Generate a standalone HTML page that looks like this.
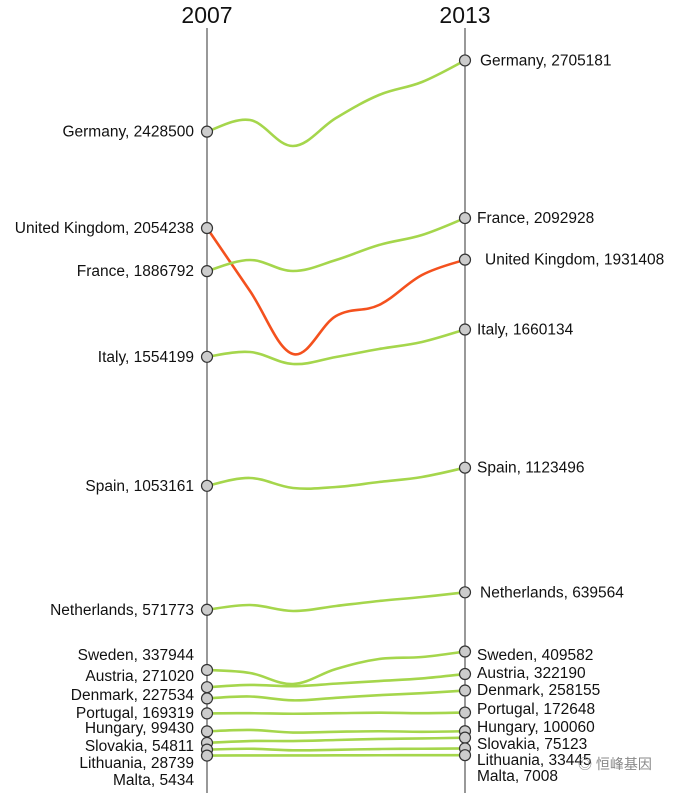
<!DOCTYPE html>
<html><head><meta charset="utf-8"><style>
body{margin:0;background:#fff;}
svg{display:block;font-family:"Liberation Sans",Arial,sans-serif;}
</style></head><body>
<svg id="c" width="673" height="793"></svg>
<script>
const years=[2007,2008,2009,2010,2011,2012,2013];
const countries=["Germany","United Kingdom","France","Italy","Spain","Netherlands","Sweden","Austria","Denmark","Portugal","Hungary","Slovakia","Lithuania","Malta"];
const germany=[2428500,2473786,2372816,2481553,2570874,2621359,2705181];
const uk=[2054238,1809709,1565049,1712621,1755340,1871845,1931408];
const france=[1886792,1930097,1887379,1930097,1988350,2027184,2092928];
const italy=[1554199,1572816,1526214,1553398,1584466,1611650,1660134];
const spain=[1053161,1083495,1044660,1048544,1067961,1087379,1123496];
const netherlands=[571773,590291,566990,586408,605825,621359,639564];
const sweden=[337944,326214,283495,341748,380583,388350,409582];
const austria=[271020,280000,275000,285000,295000,305000,322190];
const denmark=[227534,235000,220000,230000,240000,248000,258155];
const portugal=[169319,170000,168000,170000,172000,170000,172648];
const hungary=[99430,105000,95000,98000,100000,98000,100060];
const slovakia=[54811,62000,62000,66000,70000,72000,75123];
const lithuania=[28739,32000,26000,28000,31000,32000,33445];
const malta=[5434,6000,6000,6500,6800,6900,7008];
const series=[germany,uk,france,italy,spain,netherlands,sweden,austria,denmark,portugal,hungary,slovakia,lithuania,malta];
const highlight=["United Kingdom"];
// label vertical positions for crowded small countries (layout only)
const leftLabelY={Sweden:655,Austria:676,Denmark:695,Portugal:713,Hungary:728,Slovakia:746,Lithuania:763,Malta:780};
const rightLabelY={Sweden:655,Austria:673,Denmark:690,Portugal:709,Hungary:727,Slovakia:744,Lithuania:760,Malta:776};

const NS="http://www.w3.org/2000/svg";
const svg=document.getElementById('c');
const x0=207,x1=465;
function xs(i){return x0+(x1-x0)*i/(years.length-1);}
function ys(v){return 757-v*0.0002575;}
function el(t,a,p){const e=document.createElementNS(NS,t);for(const k in a)e.setAttribute(k,a[k]);(p||svg).appendChild(e);return e;}

[0,years.length-1].forEach(i=>{
  const ax=el('line',{x1:xs(i),x2:xs(i),y1:28,y2:793,stroke:'#555','stroke-width':1.2});
  
  
  const t=el('text',{x:xs(i),y:23,'text-anchor':'middle','font-size':23,fill:'#111'});
  t.textContent=years[i];
  
  
});
function smooth(pts){
  let d='M'+pts[0][0]+','+pts[0][1];
  const t=0.18;
  for(let i=0;i<pts.length-1;i++){
    const p0=pts[Math.max(i-1,0)],p1=pts[i],p2=pts[i+1],p3=pts[Math.min(i+2,pts.length-1)];
    const c1x=p1[0]+(p2[0]-p0[0])*t,c1y=p1[1]+(p2[1]-p0[1])*t;
    const c2x=p2[0]-(p3[0]-p1[0])*t,c2y=p2[1]-(p3[1]-p1[1])*t;
    d+='C'+c1x+','+c1y+' '+c2x+','+c2y+' '+p2[0]+','+p2[1];
  }
  return d;
}
series.forEach((s,k)=>{
  const name=countries[k];
  const hl=highlight.includes(name);
  const slug=name.toLowerCase().replace(/ /g,'-');
  const pts=s.map((v,i)=>[xs(i),ys(v)]);
  const p=el('path',{d:smooth(pts),fill:'none',stroke:hl?'#f4511e':'#a5d64c','stroke-width':2.6,'stroke-linejoin':'round'});
  
  
});
series.forEach((s,k)=>{
  const name=countries[k];
  const slug=name.toLowerCase().replace(/ /g,'-');
  [0,s.length-1].forEach(i=>{
    const c=el('circle',{cx:xs(i),cy:ys(s[i]),r:5.5,fill:'#ccc',stroke:'#333','stroke-width':1.2});
    
    
  });
  const ly=(leftLabelY[name]!==undefined?leftLabelY[name]:ys(s[0]))+5;
  const lt=el('text',{x:194,y:ly,'text-anchor':'end','font-size':15.5,fill:'#111'});
  lt.textContent=name+', '+s[0];
  
  
  const ry=(rightLabelY[name]!==undefined?rightLabelY[name]:ys(s[s.length-1]))+5;
  const rx=(name==='United Kingdom')?485:(name==='Germany'||name==='Netherlands'?480:477);
  const rt=el('text',{x:rx,y:ry,'font-size':15.5,fill:'#111'});
  rt.textContent=name+', '+s[s.length-1];
  
  
});
const wm=el('text',{x:578,y:769,'font-size':14,fill:'#888','font-family':'"Liberation Sans","Noto Sans CJK SC",sans-serif'});
wm.textContent='◎ 恒峰基因';


</script>
</body></html>
